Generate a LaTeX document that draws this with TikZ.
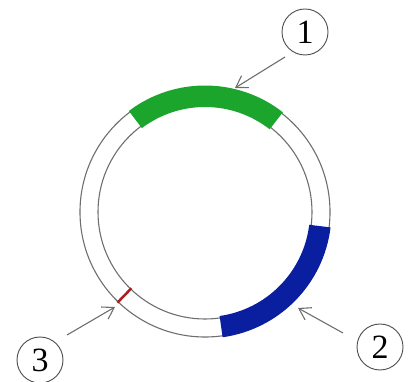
\documentclass[tikz,border=0pt]{standalone}
\usepackage{fontspec}
\setmainfont{Liberation Serif}
\usetikzlibrary{arrows.meta}
\definecolor{ringgray}{RGB}{110,110,110}
\definecolor{gfill}{RGB}{28,165,45}
\definecolor{bfill}{RGB}{10,30,160}
\definecolor{rmark}{RGB}{170,30,30}
\tikzset{
  ring/.style={draw=ringgray,line width=1.1pt},
  lbl/.style={circle,draw=black!70,line width=0.9pt,minimum size=46pt,inner sep=0pt,font=\fontsize{34}{34}\selectfont},
  pointer/.style={draw=ringgray,line width=1.1pt,-{Straight Barb[length=11pt,width=14pt,line width=1.1pt]}}
}
\begin{document}
\begin{tikzpicture}[x=1pt,y=1pt]
\useasboundingbox (0,0) rectangle (409,382);
\coordinate (c) at (205,170);
% ring
\draw[ring] (c) circle[radius=125];
\draw[ring] (c) circle[radius=107];
% green segment
\fill[gfill] ([shift={(52:105)}]c) arc[start angle=52,end angle=127,radius=105]
  -- ([shift={(127:126.5)}]c) arc[start angle=127,end angle=52,radius=126.5] -- cycle;
% blue segment
\fill[bfill] ([shift={(-82:105)}]c) arc[start angle=-82,end angle=-7,radius=105]
  -- ([shift={(-7:126.5)}]c) arc[start angle=-7,end angle=-82,radius=126.5] -- cycle;
% red mark
\draw[rmark,line width=2.5pt] ([shift={(-134:106)}]c) -- ([shift={(-134:126)}]c);
% labels
\node[lbl] (l1) at (305,350) {1};
\node[lbl] (l2) at (380,35) {2};
\node[lbl] (l3) at (40,22) {3};
\coordinate (t1) at (235,294);
\coordinate (t2) at (298,74);
\coordinate (t3) at (115,75);
\draw[pointer] (285,325) -- (t1);
\draw[pointer] (343,49) -- (t2);
\draw[pointer] (67,47) -- (t3);
\end{tikzpicture}
\end{document}
